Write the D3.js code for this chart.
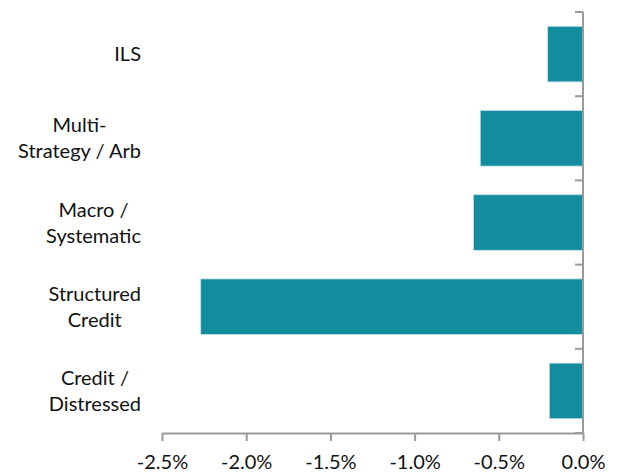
<!DOCTYPE html>
<html>
<head>
<meta charset="utf-8">
<script src="https://cdn.jsdelivr.net/npm/d3@7"></script>
<style>
  body { margin: 0; background: #fff; }
  text { font-family: Lato, "Open Sans", sans-serif; fill: #111; }
</style>
</head>
<body>
<div class="chart"></div>
<script>
const categories = [
  ['ILS'],
  ['Multi-', 'Strategy / Arb'],
  ['Macro /', 'Systematic'],
  ['Structured', 'Credit'],
  ['Credit /', 'Distressed']
];
const values = [-0.21, -0.61, -0.65, -2.27, -0.20];
const xTicks = [-2.5, -2.0, -1.5, -1.0, -0.5, 0.0];

function displayChart() {
  const w = 628;
  const h = 476;
  const padding = { top: 12, right: 45, bottom: 43, left: 162 };
  const keys = categories.map((d) => d.join(' '));
  const fmt = (d) => (d === 0 ? '0.0%' : d.toFixed(1) + '%');

  const xScale = d3.scaleLinear()
    .domain([-2.5, 0])
    .range([padding.left, w - padding.right]);
  const yScale = d3.scaleBand()
    .domain(keys)
    .range([padding.top, h - padding.bottom])
    .paddingInner(0.34)
    .paddingOuter(0.17);

  const svg = d3.select('.chart')
    .append('svg')
    .attr('width', w)
    .attr('height', h);

  svg.selectAll('rect')
    .data(values)
    .enter()
    .append('rect')
    .attr('class', 'bar')
    .attr('x', (d) => xScale(d))
    .attr('y', (d, i) => yScale(keys[i]))
    .attr('width', (d) => xScale(0) - xScale(d))
    .attr('height', yScale.bandwidth())
    .attr('fill', '#138d9d')
    .attr('stroke', '#bfe0e5')
    .attr('stroke-width', 0.8);

  // x axis
  const xAxis = svg.append('g')
    .attr('class', 'x-axis')
    .attr('transform', `translate(0, ${h - padding.bottom})`)
    .call(d3.axisBottom(xScale)
      .tickValues(xTicks)
      .tickSize(8)
      .tickSizeOuter(0)
      .tickPadding(14)
      .tickFormat(fmt));
  xAxis.select('.domain').attr('stroke', '#9a9a9a').attr('stroke-width', 2);
  xAxis.selectAll('.tick line').attr('stroke', '#9a9a9a').attr('stroke-width', 2);
  xAxis.selectAll('.tick text')
    .style('font-size', '20px')
    .attr('fill', '#111');

  // y axis: line with ticks at band boundaries
  const step = yScale.step();
  const y0 = padding.top;
  const bounds = d3.range(keys.length + 1).map((i) => y0 + i * step);
  const yAxis = svg.append('g').attr('class', 'y-axis');
  yAxis.append('line')
    .attr('x1', xScale(0)).attr('x2', xScale(0))
    .attr('y1', y0).attr('y2', h - padding.bottom)
    .attr('stroke', '#9a9a9a').attr('stroke-width', 2);
  yAxis.selectAll('.ytick')
    .data(bounds)
    .enter()
    .append('line')
    .attr('class', 'ytick')
    .attr('x1', xScale(0) - 8).attr('x2', xScale(0))
    .attr('y1', (d) => d).attr('y2', (d) => d)
    .attr('stroke', '#9a9a9a').attr('stroke-width', 2);

  // category labels
  const labelRight = 141;
  const lineH = 26;
  categories.forEach((lines, i) => {
    const cy = yScale(keys[i]) + yScale.bandwidth() / 2;
    const g = svg.append('g');
    const texts = lines.map((t, j) => g.append('text')
      .attr('y', cy + (j - (lines.length - 1) / 2) * lineH)
      .attr('dy', '0.35em')
      .attr('text-anchor', 'middle')
      .style('font-size', '20px')
      .text(t));
    const maxW = d3.max(texts, (t) => t.node().getComputedTextLength());
    texts.forEach((t) => t.attr('x', labelRight - maxW / 2));
  });
}

displayChart();
</script>
</body>
</html>
